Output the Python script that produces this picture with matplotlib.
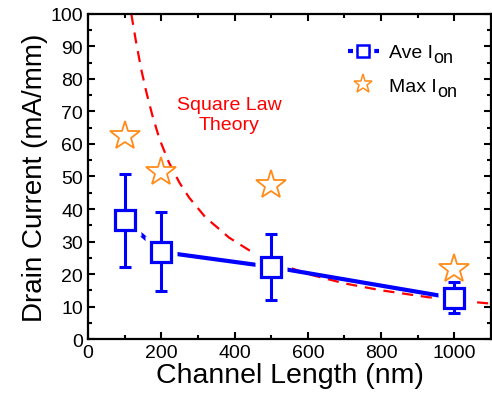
import matplotlib
matplotlib.use("Agg")
import matplotlib.pyplot as plt
from matplotlib.lines import Line2D

plt.rcParams['font.family'] = ['Liberation Sans', 'DejaVu Sans']

# channel length (nm)
lengths = [100, 200, 500, 1000]
# average on-current with error bar limits (mA/mm)
ave_ion = [36.5, 26.8, 22.2, 12.6]
err_low = [22.3, 14.7, 12.0, 8.0]
err_high = [50.8, 39.2, 32.2, 17.6]
# max on-current (mA/mm)
max_ion = [62.6, 51.3, 47.4, 21.7]

# square law curve
sq_x = [118, 130, 145, 159, 175, 195, 220, 250, 276, 320, 385, 440, 502, 600, 701, 800, 927, 1053, 1100]
sq_y = [100, 92, 83, 76, 69, 61.5, 54.5, 48, 43.5, 37.5, 31.2, 27.3, 23.9, 20.0, 17.1, 15.0, 12.9, 11.4, 10.9]

legend_labels = ['Ave I', 'Max I']
legend_subs = ['on', 'on']

blue = '#0000FF'
orange = '#FF8C1A'
red = '#FF0000'

fig = plt.figure(figsize=(4.92, 4.02), dpi=100)
ax = fig.add_axes([0.179, 0.154, 0.819, 0.809])

ax.plot(sq_x, sq_y, color=red, lw=1.6, ls=(0, (5, 3.5)), zorder=1)

ax.plot(lengths, ave_ion, color=blue, lw=3, zorder=2)
# white masks give the gaps between line and boxes
ax.plot(lengths, ave_ion, ls='none', marker='s', ms=23, mfc='white', mec='none', zorder=3)
yerr = [[a - l for a, l in zip(ave_ion, err_low)], [h - a for a, h in zip(ave_ion, err_high)]]
ax.errorbar(lengths, ave_ion, yerr=yerr, fmt='none', ecolor=blue, elinewidth=2.2,
            capsize=4.5, capthick=2.2, zorder=4)
ax.plot(lengths, ave_ion, ls='none', marker='s', ms=15, mfc='white', mec=blue, mew=2.3, zorder=5)

ax.plot(lengths, max_ion, ls='none', marker='*', ms=22, mfc='white', mec=orange, mew=1.3, zorder=6)

ax.text(385, 69, 'Square Law\nTheory', color=red, fontsize=14, ha='center', va='center',
        linespacing=1.2)

h1 = Line2D([], [], color=blue, lw=3, ls=(0, (1.2, 0.9)), marker='s', ms=9, mfc='white',
            mec=blue, mew=1.8)
h2 = Line2D([], [], ls='none', marker='*', ms=14, mfc='white', mec=orange, mew=1.1)
leg = ax.legend([h1, h2], legend_labels, loc='upper right',
                bbox_to_anchor=(0.908, 0.962), frameon=False, fontsize=14, handlelength=1.6,
                labelspacing=0.8, handletextpad=0.5)

ax.set_xlim(0, 1100)
ax.set_ylim(0, 100)
ax.set_xticks(range(0, 1001, 200))
ax.set_xticks(range(100, 1100, 200), minor=True)
ax.set_yticks(range(0, 101, 10))
ax.set_yticks(range(5, 100, 10), minor=True)
ax.tick_params(which='both', direction='in', top=True, right=True, width=1.5, labelsize=14)
ax.tick_params(which='major', length=5)
ax.tick_params(which='minor', length=3)
for s in ax.spines.values():
    s.set_linewidth(1.6)

ax.set_xlabel('Channel Length (nm)', fontsize=20.5, labelpad=1)
ax.set_ylabel('Drain Current (mA/mm)', fontsize=20, labelpad=2)

# near full-size subscripts placed after the legend labels
fig.canvas.draw()
r = fig.canvas.get_renderer()
for t, sub in zip(leg.get_texts(), legend_subs):
    bb = t.get_window_extent(r)
    x, y = fig.transFigure.inverted().transform((bb.x1 + 1, bb.y0 - 1))
    fig.text(x, y, sub, fontsize=13, ha='left', va='baseline')

fig.savefig('out.png', dpi=100)
